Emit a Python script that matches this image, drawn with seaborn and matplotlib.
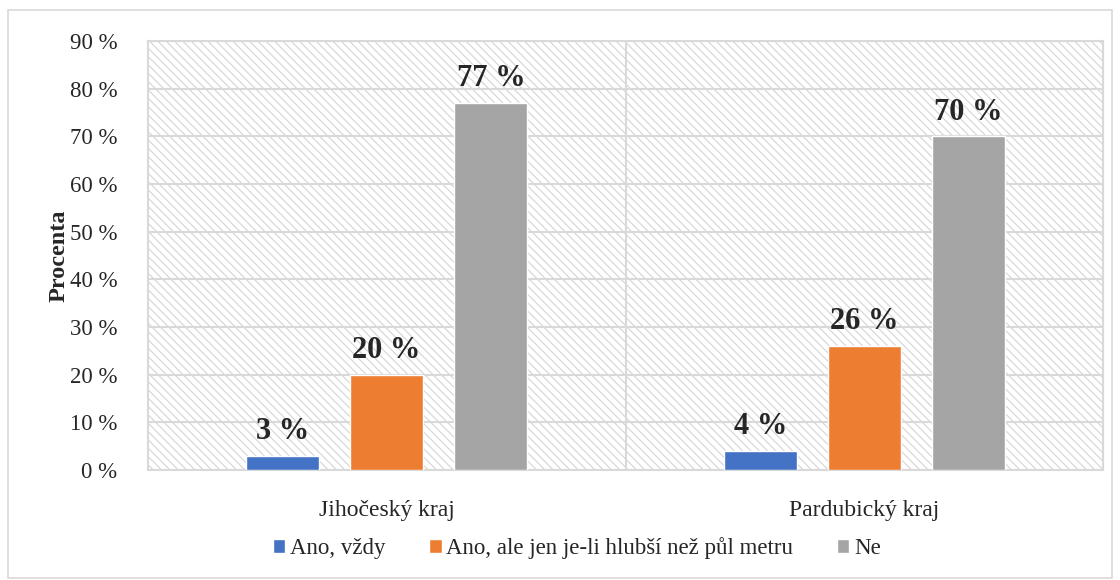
import pandas as pd
import matplotlib.pyplot as plt
import seaborn as sns
from matplotlib.patches import Rectangle

regions = ['Jihočeský kraj', 'Pardubický kraj']
answers = ['Ano, vždy', 'Ano, ale jen je-li hlubší než půl metru', 'Ne']
jihocesky = [3, 20, 77]
pardubicky = [4, 26, 70]
colors = ['#4472C4', '#ED7D31', '#A5A5A5']
yticks = [0, 10, 20, 30, 40, 50, 60, 70, 80, 90]

df = pd.DataFrame({
    'kraj': [regions[0]] * 3 + [regions[1]] * 3,
    'odpoved': answers * 2,
    'procenta': jihocesky + pardubicky,
})

sns.set_style('white')
plt.rcParams['font.family'] = ['Liberation Serif', 'DejaVu Serif']
plt.rcParams['hatch.color'] = '#d4d4d4'
plt.rcParams['hatch.linewidth'] = 0.8

fig = plt.figure(figsize=(11.2, 5.8), dpi=100)
ax = fig.add_axes([0.132, 0.19, 0.853, 0.739])

# hatched plot-area background
ax.add_patch(Rectangle((0, 0), 1, 1, transform=ax.transAxes, facecolor='white',
                       edgecolor='#d4d4d4', hatch='\\\\\\\\', lw=0, zorder=0))

sns.barplot(data=df, x='kraj', y='procenta', hue='odpoved', palette=colors, saturation=1,
            width=0.654, gap=0.3, ax=ax, zorder=3, legend=True)

for c in ax.containers:
    ax.bar_label(c, labels=[f'{v:.0f} %' for v in c.datavalues], padding=7,
                 fontsize=22, fontweight='bold')

ax.set_ylim(0, 90)
ax.set_xlim(-0.5, 1.5)
ax.set_yticks(yticks)
ax.set_yticklabels([f'{t} %' for t in yticks])
ax.yaxis.grid(True, color='#d9d9d9', lw=1.5, zorder=1)
ax.set_axisbelow(True)
ax.axvline(0.5, color='#d9d9d9', lw=1.5, zorder=1)
for s in ax.spines.values():
    s.set_color('#d9d9d9')
    s.set_linewidth(1.5)
ax.tick_params(axis='y', length=0, pad=22, labelsize=16.5)
ax.tick_params(axis='x', length=0, pad=22, labelsize=17)
ax.set_xlabel('')
ax.set_ylabel('Procenta', fontsize=17.5, fontweight='bold', labelpad=0)

ax.legend(ncol=3, frameon=False, fontsize=16.5, handlelength=0.55, handleheight=0.55,
          handletextpad=0.2, columnspacing=1.9, loc='lower center')
leg = ax.get_legend()
leg.set_bbox_to_anchor((0.515, 0.0), transform=fig.transFigure)

fig.patches.append(Rectangle((8 / 1120, 2 / 580), 1104 / 1120, 568 / 580, transform=fig.transFigure,
                             fill=False, edgecolor='#d9d9d9', lw=1.2))

fig.savefig('out.png', dpi=100)
